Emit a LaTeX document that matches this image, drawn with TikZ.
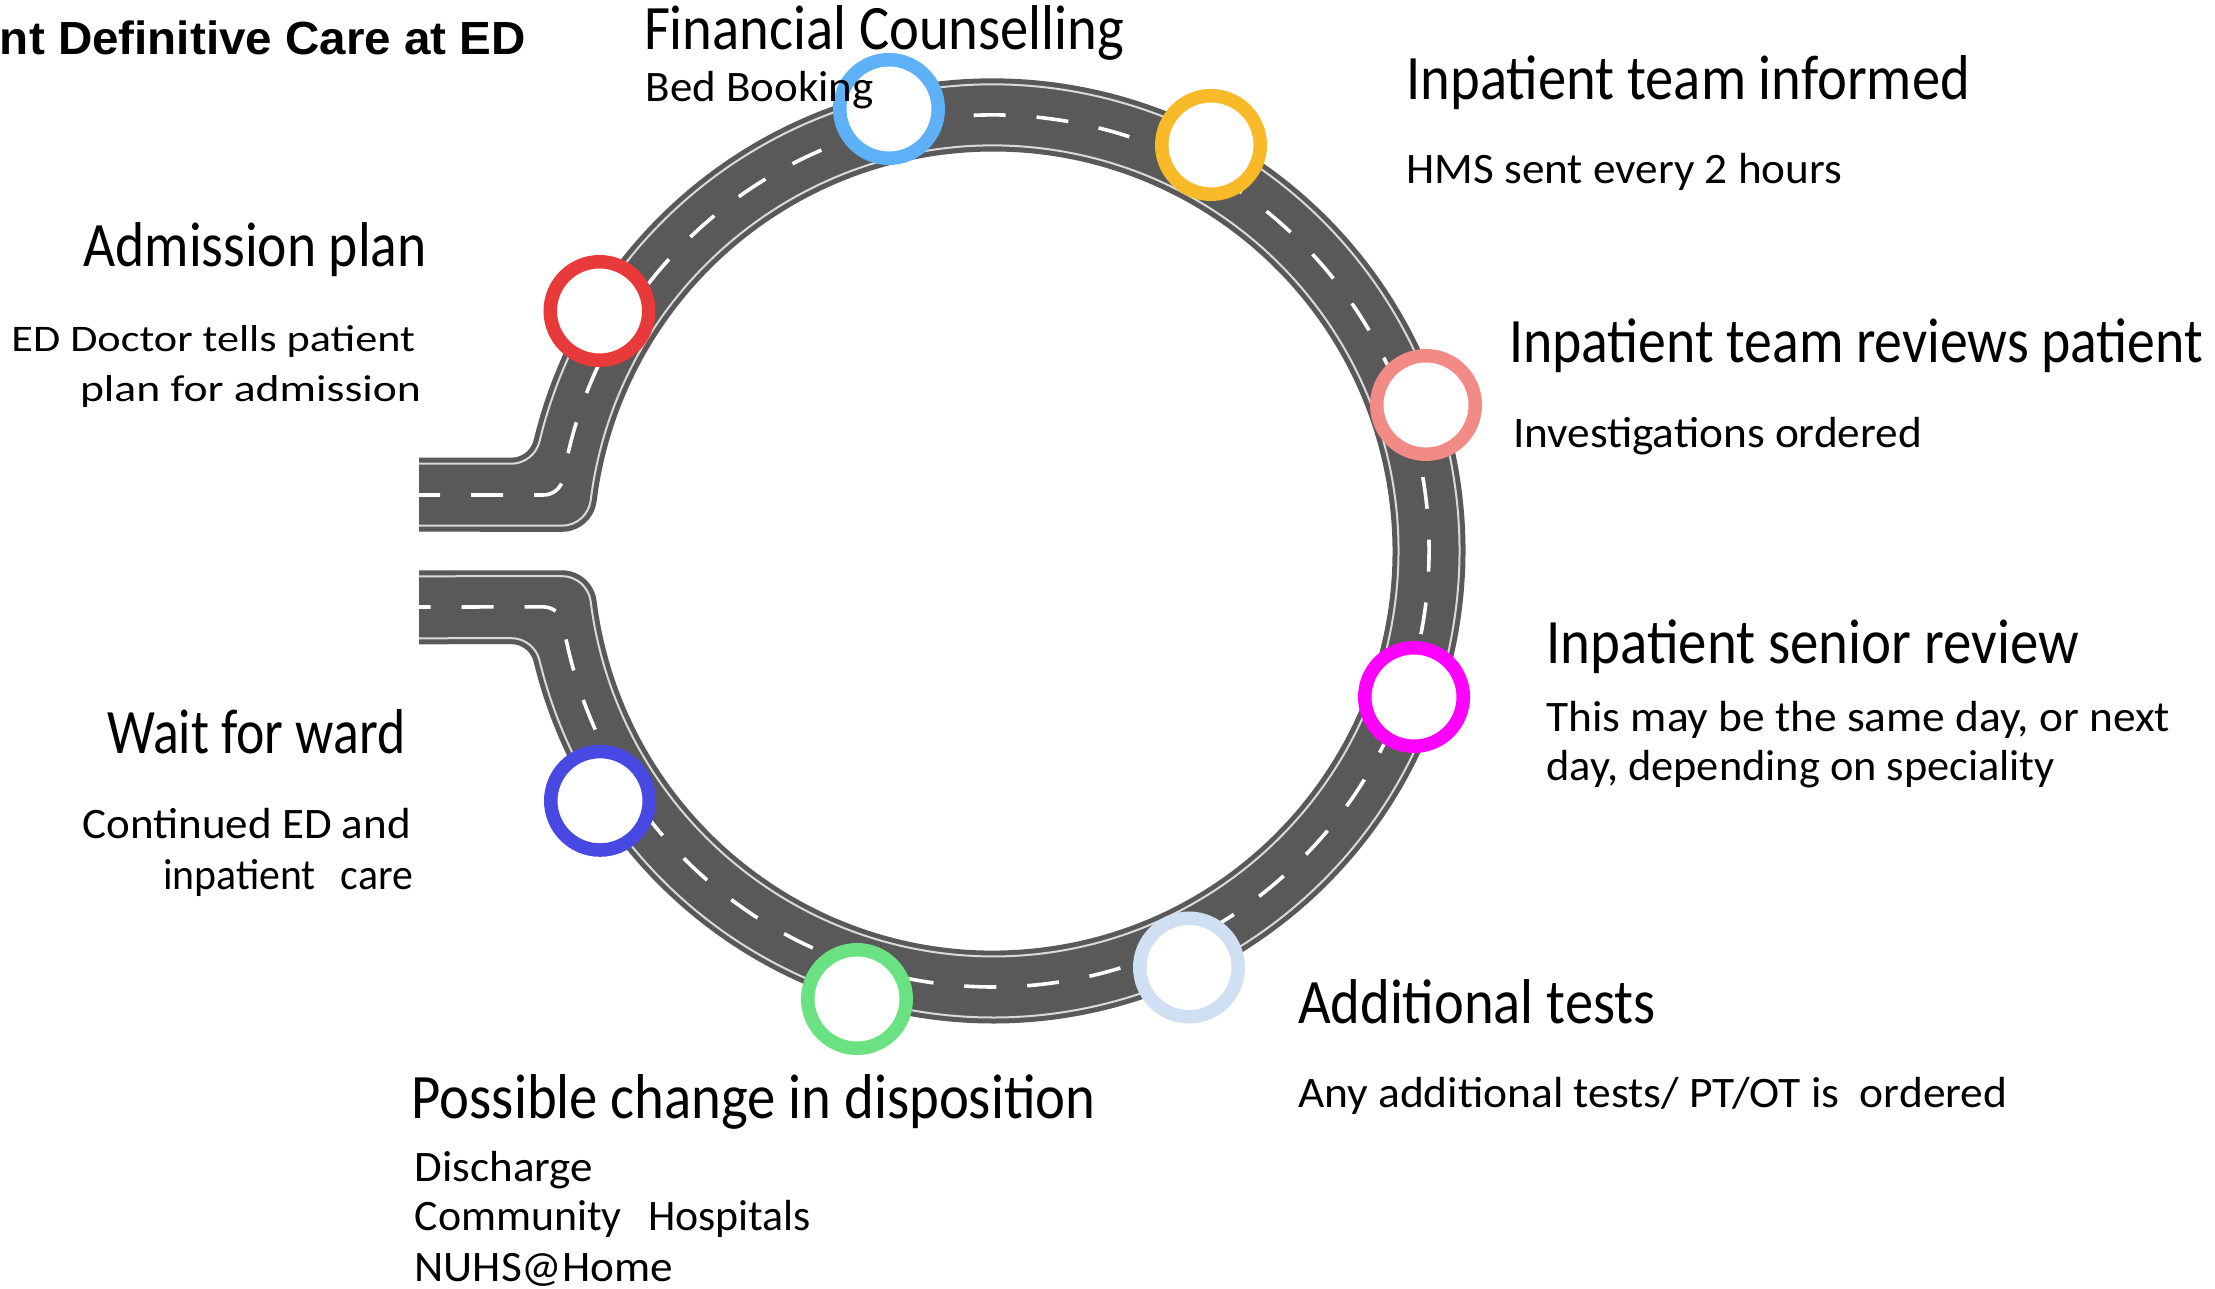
\documentclass[tikz,border=0pt]{standalone}
\usepackage{fontspec}
\usepackage{graphicx}
\setmainfont{Carlito}
\newfontfamily\ttlfont{Liberation Sans}
\definecolor{roadgray}{HTML}{595959}
\definecolor{edgeline}{HTML}{DADADA}
\definecolor{mkred}{HTML}{E8393B}
\definecolor{mkblue}{HTML}{5EB1F7}
\definecolor{mkyellow}{HTML}{F9BA29}
\definecolor{mksalmon}{HTML}{F28B86}
\definecolor{mkmagenta}{HTML}{FF00FF}
\definecolor{mkpale}{HTML}{CFE0F3}
\definecolor{mkgreen}{HTML}{6AE281}
\definecolor{mkdblue}{HTML}{4848E3}
\newcommand\hdsize{\fontsize{63.3}{70}\selectfont}
\newcommand\bdsize{\fontsize{43.5}{50}\selectfont}
\newcommand\smsize{\fontsize{37.5}{44}\selectfont}
\newcommand\fitw[2]{\resizebox{#1pt}{\height}{#2}}
\begin{document}
\begin{tikzpicture}[x=1pt,y=1pt,
  txt/.style={inner sep=0pt,outer sep=0pt,anchor=base west,text=black},
  marker/.style={circle,fill=white,line width=13.5pt,minimum size=98.5pt,inner sep=0pt},
  roadfill/.style={fill=roadgray},
  roadedge/.style={draw=edgeline,line width=2pt},
  roadmid/.style={draw=white,line width=3.6pt,dash pattern=on 32pt off 31pt,dash phase=11pt}]
\useasboundingbox (0,0) rectangle (2215,1289);

% road surface
\fill[roadfill] (419,831.3) -- (511.3,831.3)
  arc[start angle=-90,end angle=-13.57,radius=23pt]
  arc[start angle=166.43,end angle=-166.43,radius=472.5pt]
  arc[start angle=13.57,end angle=90,radius=23pt]
  -- (419,644.7) -- (419,718.7) -- (561.9,718.7)
  arc[start angle=90,end angle=7.17,radius=35pt]
  arc[start angle=-172.83,end angle=172.83,radius=399.5pt]
  arc[start angle=-7.17,end angle=-90,radius=35pt]
  -- (419,757.3) -- cycle;

% edge lines
\draw[roadedge] (419,825.3) -- (511.3,825.3)
  arc[start angle=-90,end angle=-13.57,radius=29pt]
  arc[start angle=166.43,end angle=-166.43,radius=466.5pt]
  arc[start angle=13.57,end angle=90,radius=29pt]
  -- (419,650.7);
\draw[roadedge] (419,763.3) -- (561.9,763.3)
  arc[start angle=-90,end angle=-7.17,radius=29pt]
  arc[start angle=172.83,end angle=-172.83,radius=405.5pt]
  arc[start angle=7.17,end angle=90,radius=29pt]
  -- (419,712.7);

% centre line
\draw[roadmid] (419,794) -- (543.4,794)
  arc[start angle=-90,end angle=-9.59,radius=20pt]
  arc[start angle=170.41,end angle=-170.41,radius=436pt]
  arc[start angle=9.59,end angle=90,radius=20pt]
  -- (419,682);

% markers
\node[marker,draw=mkred]     (mred)     at (599.5,978) {};
\node[marker,draw=mkblue]    (mblue)    at (889,1180) {};
\node[marker,draw=mkyellow]  (myellow)  at (1211,1144) {};
\node[marker,draw=mksalmon]  (msalmon)  at (1426,884) {};
\node[marker,draw=mkmagenta] (mmagenta) at (1414,592) {};
\node[marker,draw=mkpale]    (mpale)    at (1189,321.5) {};
\node[marker,draw=mkgreen]   (mgreen)   at (857,290) {};
\node[marker,draw=mkdblue]   (mdblue)   at (600,488.2) {};

% texts
\node[txt] (title) at (0,1234) {\ttlfont\bfseries\fontsize{46.5}{50}\selectfont\fitw{526}{nt Definitive Care at ED}};
\node[txt] (fc)  at (644,1239.25) {\hdsize\fitw{480.5}{Financial Counselling}};
\node[txt] (bb)  at (645.7,1187.6) {\bdsize\fitw{228}{Bed Booking}};
\node[txt] (iti) at (1406.6,1189) {\hdsize\fitw{563.4}{Inpatient team informed}};
\node[txt] (hms) at (1406.6,1105) {\bdsize\fitw{435.4}{HMS sent every 2 hours}};
\node[txt] (ap)  at (83.4,1022.3) {\hdsize\fitw{343.3}{Admission plan}};
\node[txt] (ed1) at (11.5,937) {\smsize\fitw{403.5}{ED Doctor tells patient}};
\node[txt] (ed2) at (80,887) {\smsize\fitw{341}{plan for admission}};
\node[txt] (itr) at (1509,926) {\hdsize\fitw{694}{Inpatient team reviews patient}};
\node[txt] (inv) at (1513,841) {\bdsize\fitw{409}{Investigations ordered}};
\node[txt] (isr) at (1546.5,625.3) {\hdsize\fitw{532.5}{Inpatient senior review}};
\node[txt] (tm1) at (1546.5,557.5) {\bdsize\fitw{623.5}{This may be the same day, or next}};
\node[txt] (tm2) at (1546.5,508.2) {\bdsize\fitw{508.5}{day, depending on speciality}};
\node[txt] (wfw) at (107,535.2) {\hdsize\fitw{298.5}{Wait for ward}};
\node[txt] (ce1) at (82.6,450) {\bdsize\fitw{328.4}{Continued ED and}};
\node[txt] (ce2) at (163,399.3) {\bdsize\fitw{250}{inpatient\hspace{0.6em}care}};
\node[txt] (adt) at (1298,265.5) {\hdsize\fitw{357.7}{Additional tests}};
\node[txt] (any) at (1298,181) {\bdsize\fitw{709.5}{Any additional tests/ PT/OT is\hspace{0.45em}ordered}};
\node[txt] (pcd) at (411.6,170.2) {\hdsize\fitw{684}{Possible change in disposition}};
\node[txt] (dis) at (414.7,107) {\bdsize\fitw{178.3}{Discharge}};
\node[txt] (com) at (414.7,58) {\bdsize\fitw{396.3}{Community\hspace{0.6em}Hospitals}};
\node[txt] (nuh) at (414.7,7) {\bdsize\fitw{258.3}{NUHS@Home}};
\end{tikzpicture}
\end{document}
